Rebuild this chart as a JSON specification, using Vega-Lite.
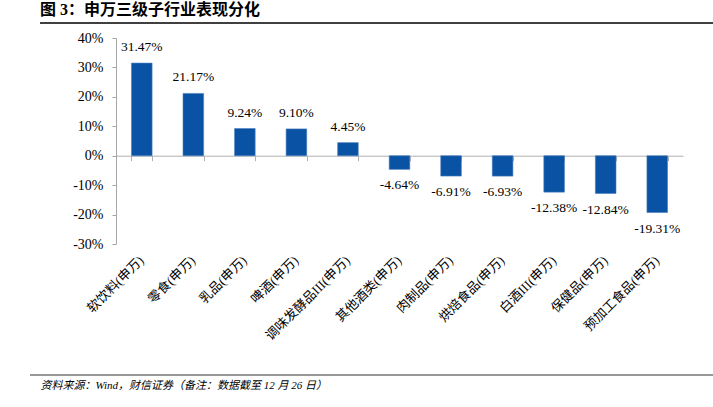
{
  "$schema": "https://vega.github.io/schema/vega-lite/v6.json",
  "width": 567,
  "height": 206,
  "autosize": {"type": "none"},
  "padding": {"left": 116, "top": 38, "right": 30, "bottom": 163},
  "background": "white",
  "config": {
    "view": {"stroke": null},
    "font": "Liberation Serif, Noto Sans CJK SC",
    "axis": {"labelFont": "Liberation Serif, Noto Sans CJK SC", "titleFont": "Liberation Serif, Noto Sans CJK SC"},
    "axisY": {"labelOverlap": false}
  },
  "title": {
    "text": "图 3：申万三级子行业表现分化",
    "anchor": "start",
    "frame": "group",
    "dx": -76,
    "offset": 4,
    "fontSize": 16,
    "fontWeight": "bold",
    "font": "Liberation Serif, Noto Sans CJK SC",
    "color": "#000000"
  },
  "data": {
    "values": [
      {"industry": "软饮料(申万)", "value": 0.3147},
      {"industry": "零食(申万)", "value": 0.2117},
      {"industry": "乳品(申万)", "value": 0.0924},
      {"industry": "啤酒(申万)", "value": 0.0910},
      {"industry": "调味发酵品III(申万)", "value": 0.0445},
      {"industry": "其他酒类(申万)", "value": -0.0464},
      {"industry": "肉制品(申万)", "value": -0.0691},
      {"industry": "烘焙食品(申万)", "value": -0.0693},
      {"industry": "白酒III(申万)", "value": -0.1238},
      {"industry": "保健品(申万)", "value": -0.1284},
      {"industry": "预加工食品(申万)", "value": -0.1931}
    ]
  },
  "encoding": {
    "y": {
      "field": "value", "type": "quantitative",
      "scale": {"domain": [-0.3, 0.4], "nice": false, "zero": false},
      "axis": {
        "values": [-0.3, -0.2, -0.1, 0, 0.1, 0.2, 0.3, 0.4],
        "format": ".0%",
        "labelExpr": "replace(datum.label, '−', '-')",
        "labelOverlap": false,
        "labelFlush": false,
        "grid": false,
        "title": null,
        "domainColor": "#a6a6a6",
        "tickColor": "#a6a6a6",
        "tickSize": 4,
        "labelFontSize": 14,
        "labelColor": "#000000",
        "labelPadding": 9
      }
    }
  },
  "layer": [
    {
      "mark": {"type": "bar", "color": "#0A52A3", "stroke": "#4a7fc0", "strokeWidth": 0.6},
      "encoding": {
        "x": {
          "field": "industry", "type": "nominal", "sort": null,
          "scale": {"paddingInner": 0.6, "paddingOuter": 0.3},
          "axis": {
            "orient": "bottom",
            "domain": false,
            "ticks": false,
            "labelAngle": -45,
            "labelAlign": "right",
            "labelBaseline": "middle",
            "labelPadding": 14,
            "labelFontSize": 13,
            "labelColor": "#000000",
            "labelOverlap": false,
            "title": "资料来源：Wind，财信证券（备注：数据截至 12 月 26 日）",
            "titleFontStyle": "italic",
            "titleFontWeight": "normal",
            "titleFontSize": 11,
            "titleColor": "#000000",
            "titleAnchor": "start",
            "titleAlign": "left",
            "titleBaseline": "middle",
            "titleX": -76,
            "titleY": 141
          }
        }
      }
    },
    {
      "transform": [{"filter": "datum.value > 0"}],
      "mark": {"type": "text", "dy": -16, "baseline": "middle", "fontSize": 13.5, "color": "#000000",
               "text": {"expr": "replace(format(datum.value, '.2%'), '−', '-')"}},
      "encoding": {
        "x": {
          "field": "industry", "type": "nominal", "sort": null,
          "axis": {
            "orient": "bottom",
            "offset": -88.3,
            "labels": false,
            "title": null,
            "tickBand": "extent",
            "domainColor": "#b0b0b0",
            "tickColor": "#b0b0b0",
            "tickSize": 5
          }
        }
      }
    },
    {
      "transform": [{"filter": "datum.value < 0"}],
      "mark": {"type": "text", "dy": 16, "baseline": "middle", "fontSize": 13.5, "color": "#000000",
               "text": {"expr": "replace(format(datum.value, '.2%'), '−', '-')"}},
      "encoding": {
        "x": {"field": "industry", "type": "nominal", "sort": null, "axis": null}
      }
    },
    {
      "data": {"values": [{"line": "top"}]},
      "mark": {"type": "rule", "color": "#000000", "strokeWidth": 1.5, "clip": false},
      "encoding": {
        "x": {"value": -76},
        "x2": {"value": 597},
        "y": {"value": -15}
      }
    },
    {
      "data": {"values": [{"line": "bottom"}]},
      "mark": {"type": "rule", "color": "#333333", "strokeWidth": 1, "clip": false},
      "encoding": {
        "x": {"value": -86},
        "x2": {"value": 597},
        "y": {"value": 337}
      }
    }
  ],
  "resolve": {"axis": {"x": "independent"}}
}
